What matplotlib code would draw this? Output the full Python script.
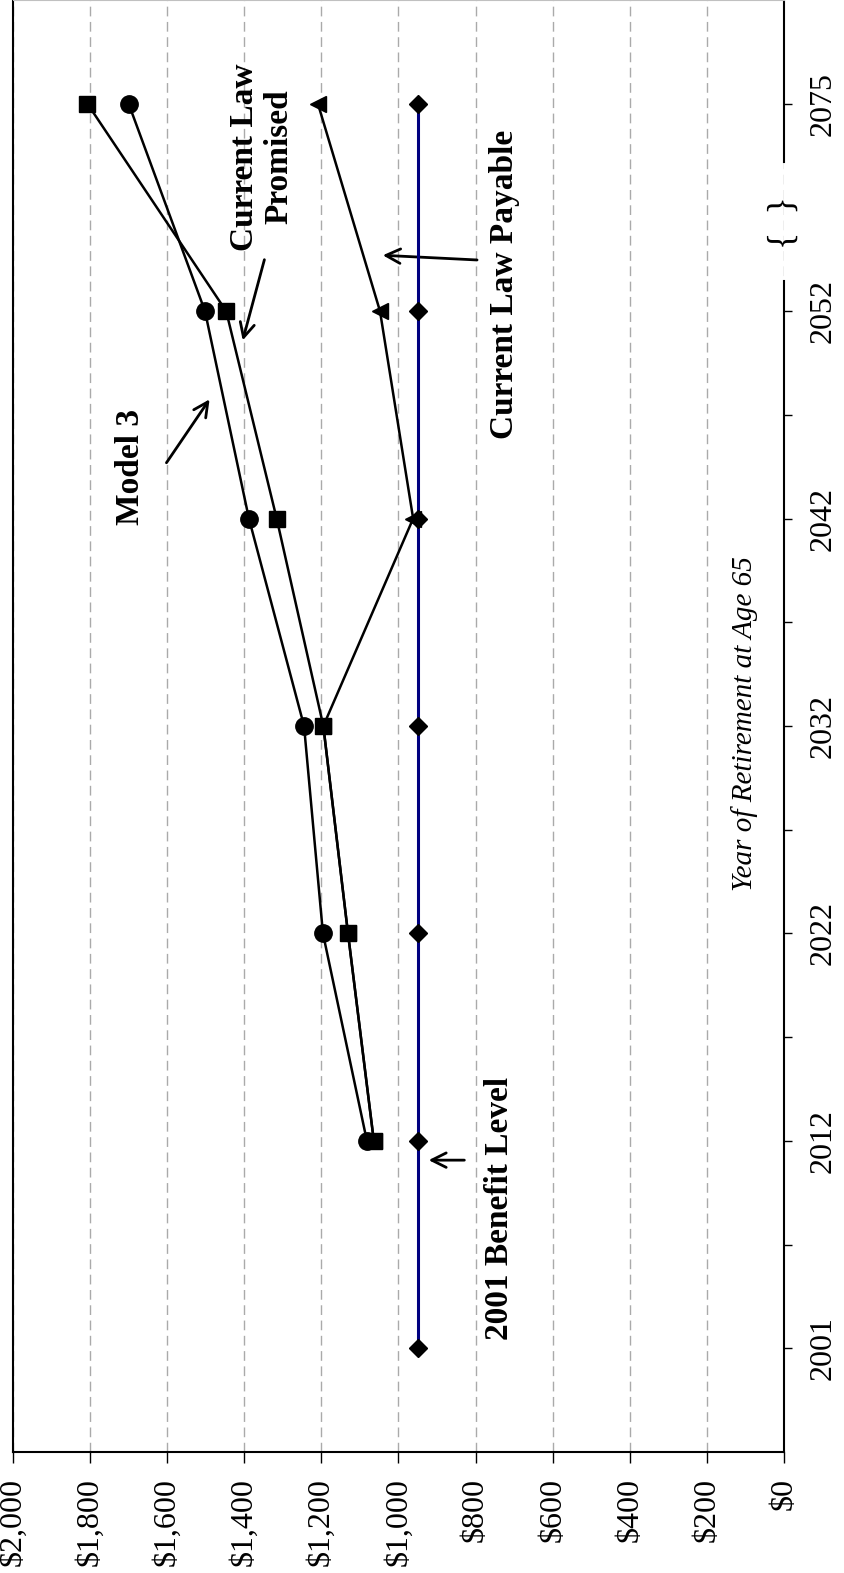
import matplotlib
matplotlib.use('Agg')
import matplotlib.pyplot as plt

plt.rcParams['font.family'] = ['Liberation Serif', 'DejaVu Serif']

years = ['2001', '2012', '2022', '2032', '2042', '2052', '2075']
benefit_2001 = [950, 950, 950, 950, 950, 950, 950]
model3 = [None, 1082, 1196, 1245, 1388, 1502, 1700]
promised = [None, 1064, 1131, 1195, 1316, 1447, 1807]
payable = [None, 1064, 1131, 1195, 962, 1048, 1209]
dollar_ticks = [0, 200, 400, 600, 800, 1000, 1200, 1400, 1600, 1800, 2000]
dollar_labels = ['$0', '$200', '$400', '$600', '$800', '$1,000', '$1,200',
                 '$1,400', '$1,600', '$1,800', '$2,000']

pos = list(range(len(years)))

fig = plt.figure(figsize=(8.45, 15.73), dpi=100)
ax = fig.add_axes([13 / 845, 1 - 1452 / 1573, 771 / 845, 1452 / 1573])


def pts(vals):
    xs = [v for v in vals if v is not None]
    ys = [p for p, v in zip(pos, vals) if v is not None]
    return xs, ys


# the chart is drawn turned: dollars run along the bottom, years up the right side
x, y = pts(payable)
ax.plot(x, y, color='black', lw=1.8, marker='<', ms=11, mfc='black', mec='black', zorder=3)
x, y = pts(promised)
ax.plot(x, y, color='black', lw=1.8, marker='s', ms=11.5, mfc='black', mec='black', zorder=4)
x, y = pts(model3)
ax.plot(x, y, color='black', lw=1.8, marker='o', ms=12.5, mfc='black', mec='black', zorder=4)
x, y = pts(benefit_2001)
ax.plot(x, y, color='#000080', lw=2.2, marker='D', ms=9, mfc='black', mec='black', zorder=5)

ax.set_xlim(2000, 0)
ax.set_ylim(-0.5, 6.5)

ax.set_xticks(dollar_ticks)
ax.set_xticklabels(dollar_labels, rotation=90, fontsize=23)
ax.tick_params(axis='x', direction='out', length=8, width=1, pad=11)

ax.yaxis.tick_right()
ax.set_yticks(pos)
ax.set_yticklabels(years, rotation=90, va='center', fontsize=23)
ax.set_yticks([0.5, 1.5, 2.5, 3.5, 4.5], minor=True)
ax.tick_params(axis='y', which='both', direction='out', length=6, width=1, pad=12)

ax.grid(axis='x', color='#aaaaaa', lw=1, linestyle=(0, (7, 4)))
ax.set_axisbelow(True)

ax.spines['left'].set_linewidth(1.5)
ax.spines['bottom'].set_linewidth(1.5)
ax.spines['top'].set_color('#c0c0c0')
ax.spines['right'].set_visible(False)

# right axis line with a break between 2052 and 2075
tr = ax.get_yaxis_transform()
ax.plot([1, 1], [-0.5, 5.145], transform=tr, color='black', lw=1.5, clip_on=False)
ax.plot([1, 1], [5.72, 6.5], transform=tr, color='black', lw=1.5, clip_on=False)
ax.text(1.0, 0.847, '{  }', transform=ax.transAxes, rotation=90, ha='center',
        va='center', fontsize=26, clip_on=False)

ax.text(0.949, 0.502, 'Year of Retirement at Age 65', transform=ax.transAxes,
        rotation=90, ha='center', va='center', fontsize=21, style='italic')

bold = dict(rotation=90, ha='center', va='center', fontsize=24, fontweight='bold')
arrow = dict(arrowstyle='->', lw=2, color='black', mutation_scale=26)

ax.text(1696, 4.25, 'Model 3', **bold)
ax.annotate('', xy=(1486, 4.586), xytext=(1606, 4.258), arrowprops=arrow)

ax.text(1354, 5.743, 'Current Law\nPromised', linespacing=1.15, multialignment='center', **bold)
ax.annotate('', xy=(1406, 4.846), xytext=(1346, 5.261), arrowprops=arrow)

ax.text(724, 5.131, 'Current Law Payable', **bold)
ax.annotate('', xy=(1048, 5.270), xytext=(789, 5.246), arrowprops=arrow)

ax.text(737, 0.676, '2001 Benefit Level', **bold)
ax.annotate('', xy=(929, 0.907), xytext=(822, 0.907), arrowprops=arrow)

fig.savefig('out.png', dpi=100)
